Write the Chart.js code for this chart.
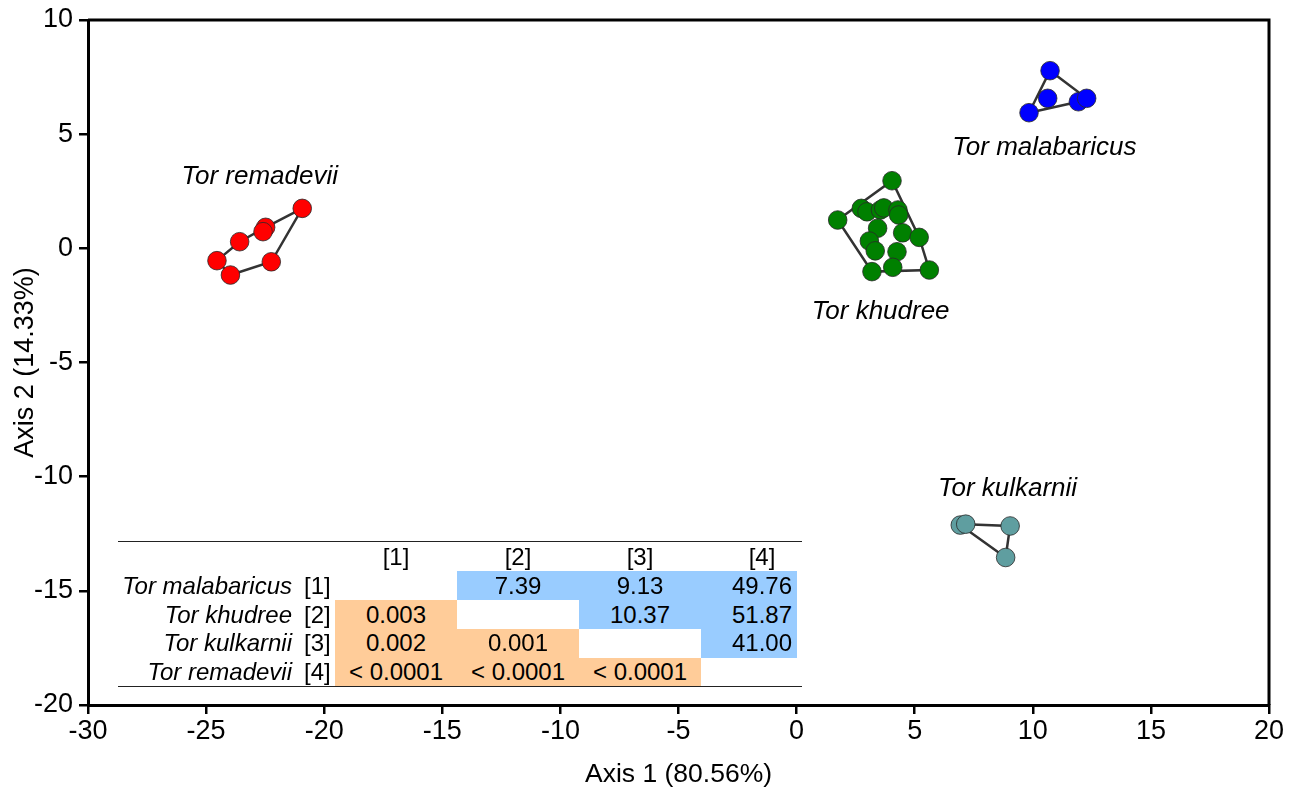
<!DOCTYPE html>
<html>
<head>
<meta charset="utf-8">
<script src="https://cdn.jsdelivr.net/npm/chart.js@4.4.1/dist/chart.umd.min.js"></script>
<style>
  html, body { margin:0; padding:0; background:#fff; }
  #wrap { position:relative; width:1302px; height:791px; font-family:"Liberation Sans", Arial, sans-serif; }
  #tbl { position:absolute; left:118px; top:541px; width:684px; height:146px;
         border-top:1.5px solid #222; border-bottom:1.5px solid #222; box-sizing:border-box; }
  #clip { position:absolute; left:0; top:0; width:679px; height:144px; overflow:hidden; }
  .cell { position:absolute; display:flex; align-items:center; justify-content:center; font-size:24px; color:#000; white-space:nowrap; }
  .name { position:absolute; display:flex; align-items:center; justify-content:flex-end; font-size:24px; font-style:italic; white-space:nowrap; }
  .idx { position:absolute; display:flex; align-items:center; font-size:24px; white-space:nowrap; }
</style>
</head>
<body>
<div id="wrap">
  <canvas id="c" width="1302" height="791"></canvas>
  <div id="tbl"><div id="clip"></div></div>
</div>
<script>
// ---------- DATA ----------
const malabaricusX = [10.73, 10.63, 9.84, 11.93, 12.28];
const malabaricusY = [7.78, 6.57, 5.94, 6.42, 6.57];

const khudreeX = [4.04, 1.74, 2.74, 2.98, 3.55, 3.69, 4.29, 4.32, 3.43, 4.49, 5.19, 3.08, 3.33, 4.25, 3.19, 4.07, 5.62];
const khudreeY = [2.96, 1.24, 1.75, 1.60, 1.68, 1.77, 1.68, 1.46, 0.88, 0.68, 0.48, 0.32, -0.11, -0.15, -1.02, -0.83, -0.95];

const kulkarniiX = [6.93, 7.16, 9.04, 8.85];
const kulkarniiY = [-12.12, -12.08, -12.16, -13.54];

const remadeviiX = [-20.93, -22.48, -22.59, -23.58, -24.54, -23.97, -22.24];
const remadeviiY = [1.75, 0.92, 0.73, 0.29, -0.54, -1.17, -0.59];

const speciesNames = ['Tor malabaricus', 'Tor khudree', 'Tor kulkarnii', 'Tor remadevii'];
const labelX = [10.49, 3.56, 8.93, -22.73];
const labelY = [4.39, -2.79, -10.54, 3.12];

const xTickMin = -30, xTickMax = 20, xTickStep = 5;
const yTickMin = -20, yTickMax = 10, yTickStep = 5;
const xAxisTitle = 'Axis 1 (80.56%)';
const yAxisTitle = 'Axis 2 (14.33%)';

// table
const tableRowNames = ['Tor malabaricus', 'Tor khudree', 'Tor kulkarnii', 'Tor remadevii'];
const tableIndex = ['[1]', '[2]', '[3]', '[4]'];
const distRow1 = [null, '7.39', '9.13', '49.76'];
const distRow2 = [null, null, '10.37', '51.87'];
const distRow3 = [null, null, null, '41.00'];
const pRow2 = ['0.003', null, null, null];
const pRow3 = ['0.002', '0.001', null, null];
const pRow4 = ['< 0.0001', '< 0.0001', '< 0.0001', null];

// ---------- helpers ----------
function zipPts(xs, ys) { return xs.map((x, i) => ({ x: x, y: ys[i] })); }
function hull(pts) {
  const p = pts.slice().sort((a, b) => a.x - b.x || a.y - b.y);
  const cross = (o, a, b) => (a.x - o.x) * (b.y - o.y) - (a.y - o.y) * (b.x - o.x);
  const lower = [], upper = [];
  for (const q of p) { while (lower.length >= 2 && cross(lower[lower.length-2], lower[lower.length-1], q) <= 0) lower.pop(); lower.push(q); }
  for (let i = p.length - 1; i >= 0; i--) { const q = p[i]; while (upper.length >= 2 && cross(upper[upper.length-2], upper[upper.length-1], q) <= 0) upper.pop(); upper.push(q); }
  upper.pop(); lower.pop();
  const h = lower.concat(upper);
  h.push(h[0]);
  return h;
}

const groups = [
  zipPts(malabaricusX, malabaricusY),
  zipPts(khudreeX, khudreeY),
  zipPts(remadeviiX, remadeviiY),
  zipPts(kulkarniiX, kulkarniiY)
];
const groupColors = ['#0000FF', '#008000', '#FF0000', '#5F9EA0'];

const datasets = [];
groups.forEach((g, i) => {
  datasets.push({
    type: 'scatter', data: hull(g), showLine: true, borderColor: '#333333', borderWidth: 2.5,
    pointRadius: 0, fill: false, order: 2, tension: 0
  });
  datasets.push({
    type: 'scatter', data: g, backgroundColor: groupColors[i], borderColor: 'rgba(40,40,40,0.8)', borderWidth: 1,
    pointRadius: 9.3, pointHoverRadius: 9.3, order: 1
  });
});

const FONT = '"Liberation Sans", Arial, sans-serif';

const frameAndLabels = {
  id: 'frameAndLabels',
  afterDatasetsDraw(chart) {
    const { ctx, scales } = chart;
    ctx.save();
    ctx.fillStyle = '#000';
    ctx.font = 'italic 26px ' + FONT;
    ctx.textAlign = 'center';
    ctx.textBaseline = 'middle';
    speciesNames.forEach((n, i) => {
      ctx.fillText(n, scales.x.getPixelForValue(labelX[i]), scales.y.getPixelForValue(labelY[i]));
    });
    ctx.restore();
  },
  afterDraw(chart) {
    const { ctx, chartArea: a } = chart;
    ctx.save();
    ctx.strokeStyle = '#000';
    ctx.lineWidth = 3;
    ctx.beginPath();
    ctx.moveTo(a.left, a.top); ctx.lineTo(a.right, a.top); ctx.lineTo(a.right, a.bottom);
    ctx.stroke();
    ctx.restore();
  }
};

new Chart(document.getElementById('c'), {
  type: 'scatter',
  data: { datasets: datasets },
  plugins: [frameAndLabels],
  options: {
    responsive: false,
    animation: false,
    devicePixelRatio: 1,
    layout: { padding: { top: 20, right: 33, left: 0, bottom: 0 } },
    plugins: { legend: { display: false }, tooltip: { enabled: false } },
    scales: {
      x: {
        type: 'linear', min: xTickMin, max: xTickMax,
        ticks: { stepSize: xTickStep, color: '#000', font: { size: 27, family: FONT }, padding: 1, maxRotation: 0 },
        grid: { drawOnChartArea: false, drawTicks: true, tickLength: 9, color: '#000', lineWidth: 2.5 },
        border: { color: '#000', width: 3 },
        title: { display: true, text: xAxisTitle, color: '#000', font: { size: 26.5, family: FONT }, padding: { top: 0, bottom: 0 } },
        afterFit(s) { s.height = 86; }
      },
      y: {
        type: 'linear', min: yTickMin, max: yTickMax,
        ticks: { stepSize: yTickStep, color: '#000', font: { size: 27, family: FONT, lineHeight: 1 }, padding: 6 },
        grid: { drawOnChartArea: false, drawTicks: true, tickLength: 9, color: '#000', lineWidth: 2.5 },
        border: { color: '#000', width: 3 },
        title: { display: true, text: yAxisTitle, color: '#000', font: { size: 27, family: FONT }, padding: { top: 9, bottom: 0 } },
        afterFit(s) { s.width = 88; }
      }
    }
  }
});

// ---------- table ----------
const clip = document.getElementById('clip');
const tbl = document.getElementById('tbl');
const colLeft0 = 217, colW = 122;
const rowTops = [0, 29, 58, 87, 115.5];
const rowHs = [29, 29, 29, 28.5, 28.5];
const BLUE = '#99CCFF', ORANGE = '#FFCC99';
function addCell(parent, cls, left, top, w, h, text, bg) {
  const d = document.createElement('div');
  d.className = cls;
  d.style.left = left + 'px'; d.style.top = top + 'px';
  d.style.width = w + 'px'; d.style.height = h + 'px';
  if (bg) d.style.background = bg;
  if (text !== null && text !== undefined) d.textContent = text;
  parent.appendChild(d);
}
// header
tableIndex.forEach((t, j) => addCell(clip, 'cell', colLeft0 + colW * j, rowTops[0], colW, rowHs[0], t, null));
const distRows = [distRow1, distRow2, distRow3, [null, null, null, null]];
const pRows = [[null, null, null, null], pRow2, pRow3, pRow4];
tableRowNames.forEach((n, i) => {
  const top = rowTops[i + 1], h = rowHs[i + 1];
  addCell(tbl, 'name', 0, top, 174, h, n, null);
  addCell(tbl, 'idx', 186, top, 30, h, tableIndex[i], null);
  for (let j = 0; j < 4; j++) {
    if (distRows[i][j] !== null) addCell(clip, 'cell', colLeft0 + colW * j, top, colW, h, distRows[i][j], BLUE);
    else if (pRows[i][j] !== null) addCell(clip, 'cell', colLeft0 + colW * j, top, colW, h, pRows[i][j], ORANGE);
  }
});
</script>
</body>
</html>
